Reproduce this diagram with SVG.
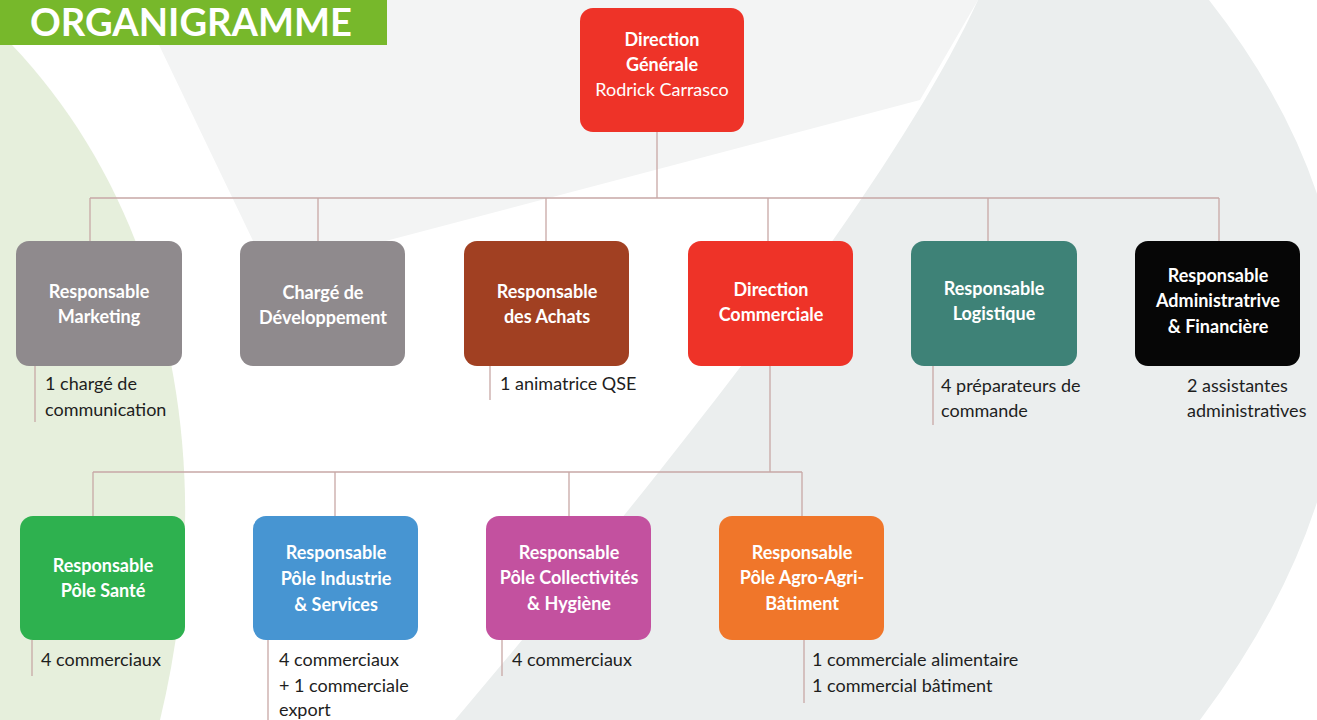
<svg xmlns="http://www.w3.org/2000/svg" width="1317" height="720" viewBox="0 0 1317 720">
<style>
.bx{stroke:none}
.nt{font-family:Lato,"Liberation Sans",sans-serif;font-weight:bold;font-size:18px;fill:#ffffff;text-anchor:middle}
.nr{font-family:Lato,"Liberation Sans",sans-serif;font-weight:normal;font-size:18px;fill:#ffffff;text-anchor:middle}
.st{font-family:Lato,"Liberation Sans",sans-serif;font-size:18px;fill:#1e1e1e}
.cn{fill:none;stroke:#c8a8a6;stroke-width:1.3}
</style>
<rect width="1317" height="720" fill="#ffffff"/>
<g id="background">
<path d="M137 0 L978 0 L920 100 L268 272 L160 47 Z" fill="#f3f4f4"/>
<path d="M978 0 L1209 0 Q1480 345 1200 720 L455 720 C700 430 900 170 978 0 Z" fill="#ebeeee"/>
<path d="M0 45 L12 45 C160 200 225 450 160 720 L0 720 Z" fill="#e6efdc"/>
</g>
<g id="title">
<rect x="0" y="0" width="387" height="45" fill="#77b82b"/>
<text x="30" y="36" font-family="Lato,'Liberation Sans',sans-serif" font-weight="bold" font-size="38" fill="#ffffff" textLength="322" lengthAdjust="spacingAndGlyphs">ORGANIGRAMME</text>
</g>
<g id="connectors">
<path class="cn" d="M657 132 V198 M90 198 H1219 M90 198 V241 M318 198 V241 M546 198 V241 M768 198 V241 M988 198 V241 M1219 198 V241"/>
<path class="cn" d="M770 366 V472 M93 472 H802 M93 472 V516 M335 472 V516 M569 472 V516 M802 472 V516"/>
<path class="cn" d="M35 366 V422 M490 366 V400 M933 366 V425 M32 640 V676 M268 640 V720 M502 640 V676 M804 640 V703"/>
</g>
<g id="n-dg">
<rect class="bx" x="580" y="8" width="164" height="124" rx="13" fill="#ee3328"/>
<text class="nt" x="662" y="46">Direction</text>
<text class="nt" x="662" y="71">Générale</text>
<text class="nr" x="662" y="96">Rodrick Carrasco</text>
</g>
<g id="n-marketing">
<rect class="bx" x="16" y="241" width="166" height="125" rx="13" fill="#8f8a8d"/>
<text class="nt" x="99" y="298">Responsable</text>
<text class="nt" x="99" y="323">Marketing</text>
<text class="st" x="45" y="390">1 chargé de</text>
<text class="st" x="45" y="416">communication</text>
</g>
<g id="n-dev">
<rect class="bx" x="240" y="241" width="165" height="125" rx="13" fill="#8f8a8d"/>
<text class="nt" x="323" y="299">Chargé de</text>
<text class="nt" x="323" y="324">Développement</text>
</g>
<g id="n-achats">
<rect class="bx" x="464" y="241" width="165" height="125" rx="13" fill="#a14022"/>
<text class="nt" x="547" y="298">Responsable</text>
<text class="nt" x="547" y="323">des Achats</text>
<text class="st" x="500" y="390">1 animatrice QSE</text>
</g>
<g id="n-commerciale">
<rect class="bx" x="688" y="241" width="165" height="125" rx="13" fill="#ee3328"/>
<text class="nt" x="771" y="296">Direction</text>
<text class="nt" x="771" y="321">Commerciale</text>
</g>
<g id="n-logistique">
<rect class="bx" x="911" y="241" width="166" height="125" rx="13" fill="#3e8277"/>
<text class="nt" x="994" y="295">Responsable</text>
<text class="nt" x="994" y="320">Logistique</text>
<text class="st" x="941" y="392">4 préparateurs de</text>
<text class="st" x="941" y="417">commande</text>
</g>
<g id="n-admin">
<rect class="bx" x="1135" y="241" width="165" height="125" rx="13" fill="#060606"/>
<text class="nt" x="1218" y="282">Responsable</text>
<text class="nt" x="1218" y="307">Administratrive</text>
<text class="nt" x="1218" y="333">&amp; Financière</text>
<text class="st" x="1187" y="392">2 assistantes</text>
<text class="st" x="1187" y="417">administratives</text>
</g>
<g id="n-sante">
<rect class="bx" x="20" y="516" width="165" height="124" rx="13" fill="#2eb14f"/>
<text class="nt" x="103" y="572">Responsable</text>
<text class="nt" x="103" y="597">Pôle Santé</text>
<text class="st" x="41" y="666">4 commerciaux</text>
</g>
<g id="n-industrie">
<rect class="bx" x="253" y="516" width="165" height="124" rx="13" fill="#4795d2"/>
<text class="nt" x="336" y="559">Responsable</text>
<text class="nt" x="336" y="585">Pôle Industrie</text>
<text class="nt" x="336" y="611">&amp; Services</text>
<text class="st" x="279" y="666">4 commerciaux</text>
<text class="st" x="279" y="692">+ 1 commerciale</text>
<text class="st" x="279" y="716">export</text>
</g>
<g id="n-collectivites">
<rect class="bx" x="486" y="516" width="165" height="124" rx="13" fill="#c3519f"/>
<text class="nt" x="569" y="559">Responsable</text>
<text class="nt" x="569" y="584">Pôle Collectivités</text>
<text class="nt" x="569" y="610">&amp; Hygiène</text>
<text class="st" x="512" y="666">4 commerciaux</text>
</g>
<g id="n-agro">
<rect class="bx" x="719" y="516" width="165" height="124" rx="13" fill="#f0762a"/>
<text class="nt" x="802" y="559">Responsable</text>
<text class="nt" x="802" y="584">Pôle Agro-Agri-</text>
<text class="nt" x="802" y="610">Bâtiment</text>
<text class="st" x="812" y="666">1 commerciale alimentaire</text>
<text class="st" x="812" y="692">1 commercial bâtiment</text>
</g>
</svg>
